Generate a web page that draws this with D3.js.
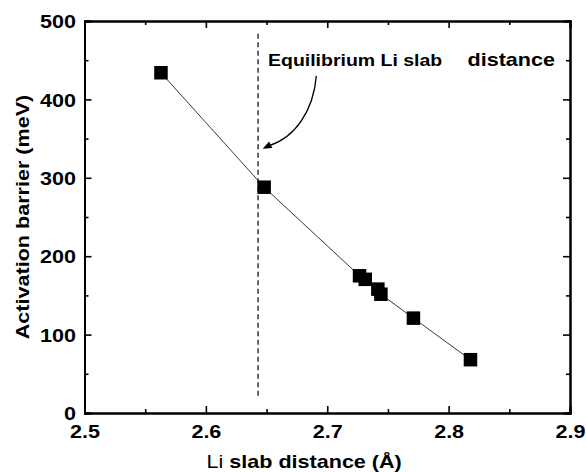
<!DOCTYPE html>
<html>
<head>
<meta charset="utf-8">
<script src="https://cdn.jsdelivr.net/npm/d3@7"></script>
<style>
  html, body { margin: 0; padding: 0; background: #fff; }
  svg { display: block; }
  text { font-family: "Liberation Sans", Arial, sans-serif; font-weight: bold; fill: #000; }
</style>
</head>
<body>
<svg id="chart" width="586" height="472"></svg>
<script>
// Li slab distance (Å) and activation barrier (meV)
const slabDistance = [2.563, 2.648, 2.7266, 2.7313, 2.7417, 2.7442, 2.771, 2.818];
const barrier      = [434, 288, 175, 170.5, 158, 151.5, 121, 68];

// axis ticks
const xMajorTicks = [2.5, 2.6, 2.7, 2.8, 2.9];
const xMinorTicks = [2.55, 2.65, 2.75, 2.85];
const yMajorTicks = [0, 100, 200, 300, 400, 500];
const yMinorTicks = [50, 150, 250, 350, 450];

// equilibrium marker and annotation (data units)
const equilibriumX = 2.643;
const equilibriumSpan = [22, 486];
const arrowFrom = [2.691, 430];
const arrowTo = [2.6468, 337];

const SX = 1.16;              // horizontal stretch of the lettering
const FS = 18.6;

const svg = d3.select("#chart");
const x = d3.scaleLinear().domain([2.5, 2.9]).range([84.5, 570]);
const y = d3.scaleLinear().domain([0, 500]).range([413, 21]);

function wideText(parent, px, py, str, opts = {}) {
  const g = parent.append("g")
    .attr("transform", `translate(${px},${py})` + (opts.rotate ? ` rotate(${opts.rotate})` : ""));
  const t = g.append("text")
    .attr("transform", `scale(${SX},1)`)
    .attr("text-anchor", opts.anchor || "start")
    .attr("font-size", opts.size || FS);
  return t.text(str);
}

// axes: ticks point inward on all four sides
function styleAxis(g) {
  g.select(".domain").attr("stroke", "#000").attr("stroke-width", 2);
  g.selectAll(".tick line").attr("stroke", "#000").attr("stroke-width", 1.6);
}

const gx = svg.append("g").attr("transform", `translate(0,${y(0)})`)
  .call(d3.axisBottom(x).tickValues(xMajorTicks).tickSize(-7).tickFormat(d3.format(".1f")));
const gxMinor = svg.append("g").attr("transform", `translate(0,${y(0)})`)
  .call(d3.axisBottom(x).tickValues(xMinorTicks).tickSize(-4).tickFormat(""));
const gxTop = svg.append("g").attr("transform", `translate(0,${y(500)})`)
  .call(d3.axisTop(x).tickValues(xMajorTicks).tickSize(-7).tickFormat(""));
const gxTopMinor = svg.append("g").attr("transform", `translate(0,${y(500)})`)
  .call(d3.axisTop(x).tickValues(xMinorTicks).tickSize(-4).tickFormat(""));

const gy = svg.append("g").attr("transform", `translate(${x(2.5)},0)`)
  .call(d3.axisLeft(y).tickValues(yMajorTicks).tickSize(-7).tickFormat(d3.format("d")));
const gyMinor = svg.append("g").attr("transform", `translate(${x(2.5)},0)`)
  .call(d3.axisLeft(y).tickValues(yMinorTicks).tickSize(-4).tickFormat(""));
const gyRight = svg.append("g").attr("transform", `translate(${x(2.9)},0)`)
  .call(d3.axisRight(y).tickValues(yMajorTicks).tickSize(-7).tickFormat(""));
const gyRightMinor = svg.append("g").attr("transform", `translate(${x(2.9)},0)`)
  .call(d3.axisRight(y).tickValues(yMinorTicks).tickSize(-4).tickFormat(""));

[gx, gxMinor, gxTop, gxTopMinor, gy, gyMinor, gyRight, gyRightMinor].forEach(styleAxis);
svg.selectAll(".tick line").filter(function(){ return +d3.select(this).attr("y2") === 0 && +d3.select(this).attr("x2") === 0; });

gx.selectAll(".tick text")
  .attr("font-family", null).attr("font-size", FS)
  .attr("transform", `scale(${SX},1)`)
  .attr("y", 12.3).attr("dy", "0.71em");
gy.selectAll(".tick text")
  .attr("font-family", null).attr("font-size", FS)
  .attr("transform", `scale(${SX},1)`)
  .attr("x", -8.5 / SX).attr("dy", "0.36em");
svg.selectAll("g").attr("font-family", null);

// equilibrium slab distance
svg.append("line")
  .attr("x1", x(equilibriumX)).attr("x2", x(equilibriumX))
  .attr("y1", y(equilibriumSpan[0])).attr("y2", y(equilibriumSpan[1]))
  .attr("stroke", "#000").attr("stroke-width", 1.2)
  .attr("stroke-dasharray", "5,3.5");

// connecting line through the points
const pts = slabDistance.map((d, i) => [d, barrier[i]]);
svg.append("path")
  .datum(pts)
  .attr("fill", "none").attr("stroke", "#222").attr("stroke-width", 0.9)
  .attr("d", d3.line().x(d => x(d[0])).y(d => y(d[1])));

// square markers
const S = 13.5;
svg.selectAll("rect.pt").data(pts).join("rect")
  .attr("class", "pt")
  .attr("x", d => x(d[0]) - S / 2).attr("y", d => y(d[1]) - S / 2)
  .attr("width", S).attr("height", S)
  .attr("fill", "#000");

// annotation arrow
const ax0 = x(arrowFrom[0]), ay0 = y(arrowFrom[1]);
const ax1 = x(arrowTo[0]), ay1 = y(arrowTo[1]);
svg.append("path")
  .attr("d", `M${ax0},${ay0} C${ax0 - 3},${ay0 + 36} ${ax0 - 22},${ay0 + 62} ${ax1 + 6},${ay1 - 3}`)
  .attr("fill", "none").attr("stroke", "#000").attr("stroke-width", 1.3);
const ang = Math.atan2(ay1 - (ay1 - 3), ax1 - (ax1 + 6));
const hl = 9, hw = 3.6;
const bx = ax1 - hl * Math.cos(ang), by = ay1 - hl * Math.sin(ang);
svg.append("path")
  .attr("d", `M${ax1},${ay1} L${bx - hw * Math.sin(ang)},${by + hw * Math.cos(ang)} L${bx + hw * Math.sin(ang)},${by - hw * Math.cos(ang)} Z`)
  .attr("fill", "#000");

// annotation text
wideText(svg, 268, 66, "Equilibrium Li slab", { size: 16.8 });
wideText(svg, 467.5, 66, "distance");

// axis titles
const xt = wideText(svg, 206.5, 468, "");
xt.append("tspan").attr("font-weight", "normal").text("Li");
xt.append("tspan").text(" slab distance (Å)");
wideText(svg, 28.5, y(250), "Activation barrier (meV)", { rotate: -90, anchor: "middle" });
</script>
</body>
</html>
